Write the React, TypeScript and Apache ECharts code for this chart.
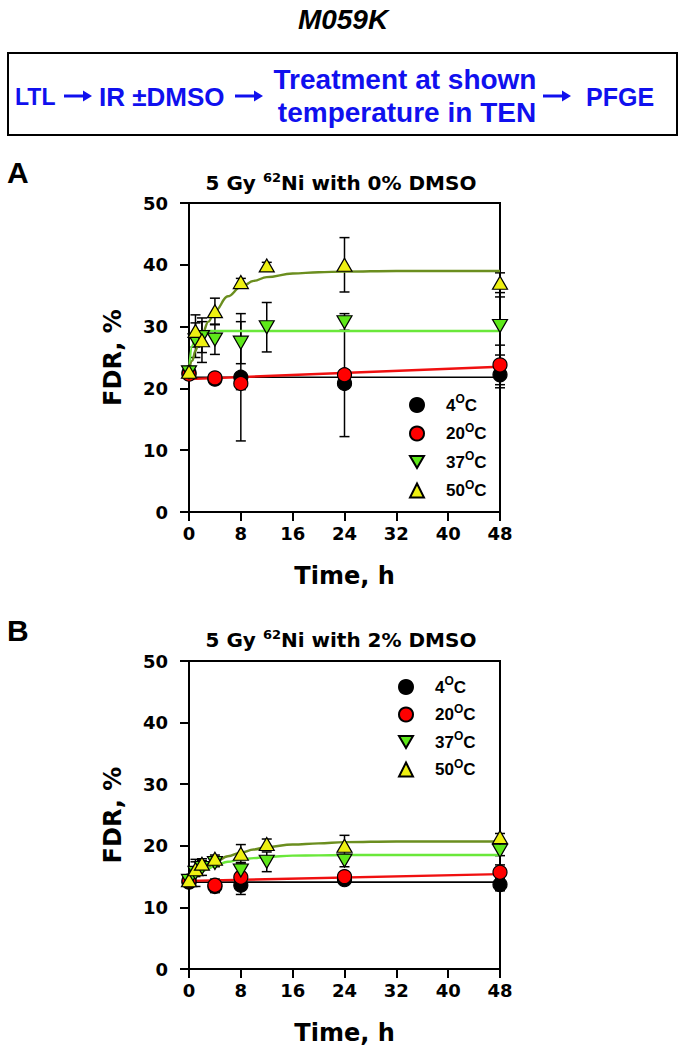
import React, { useEffect, useRef } from "react";
import * as echarts from "echarts";

const FONT = "'Liberation Sans', Arial, sans-serif";
const FONT_AX = "'DejaVu Sans', 'Liberation Sans', sans-serif";
const names = ["4°C", "20°C", "37°C", "50°C"];
const colors = ["#000000", "#ff0000", "#5ee81a", "#eef012"];
const fitColors = ["#000000", "#f01010", "#6ae83a", "#6b8e1f"];

// measured time points (h)
const tShort = [0, 4, 8, 24, 48];
const tLong = [0, 1, 2, 4, 8, 12, 24, 48];

// Panel A: 0% DMSO
const a4 = [22.5, 21.5, 21.8, 20.8, 22.2];
const a4Err = [0.5, 0.8, 10.3, 8.6, 2.1];
const a20 = [22.3, 21.7, 20.8, 22.2, 23.8];
const a20Err = [0.5, 0.6, 1.0, 0.8, 3.2];
const a37 = [22.6, 27.8, 28.3, 27.9, 27.4, 29.9, 30.7, 30.1];
const a37Err = [0.5, 2.8, 2.5, 2.4, 3.4, 4.0, 1.4, 4.7];
const a50 = [22.7, 29.3, 27.8, 32.5, 37.2, 39.9, 40.0, 37.1];
const a50Err = [0.6, 2.6, 3.6, 2.1, 0.6, 0.5, 4.4, 1.6];

// Panel B: 2% DMSO
const b4 = [14.1, 13.4, 13.6, 14.5, 13.7];
const b4Err = [0.4, 1.0, 1.5, 0.6, 1.0];
const b20 = [14.3, 13.6, 14.9, 15.0, 15.7];
const b20Err = [0.4, 1.0, 0.8, 0.5, 1.2];
const b37 = [14.3, 15.6, 16.4, 17.2, 16.0, 17.4, 17.6, 19.2];
const b37Err = [0.4, 2.2, 1.2, 0.6, 1.3, 1.6, 1.0, 0.8];
const b50 = [14.4, 16.2, 17.1, 17.9, 18.7, 20.3, 20.0, 21.4];
const b50Err = [0.4, 1.2, 0.8, 0.6, 1.5, 0.8, 1.7, 0.6];

// fitted curves
const fitT = [0, 0.5, 1, 1.5, 2, 3, 4, 6, 8, 10, 12, 16, 20, 24, 32, 40, 48];
const lineT = [0, 48];
const aFit4 = [21.8, 21.8];
const aFit20 = [21.5, 23.5];
const aFit37 = [22.7, 26.9, 28.4, 29.0, 29.2, 29.3, 29.3, 29.3, 29.3, 29.3, 29.3, 29.3, 29.3, 29.3, 29.3, 29.3, 29.3];
const aFit50 = [22.7, 24.5, 26.1, 27.5, 28.7, 30.8, 32.5, 34.9, 36.4, 37.4, 38.0, 38.6, 38.8, 38.9, 39.0, 39.0, 39.0];
const bFit4 = [14.1, 14.1];
const bFit20 = [14.3, 15.4];
const bFit37 = [14.3, 14.7, 15.1, 15.5, 15.8, 16.3, 16.8, 17.4, 17.8, 18.0, 18.2, 18.4, 18.45, 18.5, 18.5, 18.5, 18.5];
const bFit50 = [14.3, 14.8, 15.3, 15.7, 16.1, 16.7, 17.3, 18.3, 18.9, 19.4, 19.8, 20.2, 20.4, 20.6, 20.7, 20.7, 20.7];

const xTicks = [0, 8, 16, 24, 32, 40, 48];
const yTicks = [0, 10, 20, 30, 40, 50];

const pair = (xs: number[], ys: number[]) => xs.map((x, i) => [x, ys[i]]);
const errs = (xs: number[], ys: number[], es: number[]) =>
  xs.map((x, i) => [x, ys[i] - es[i], ys[i] + es[i]]);

const downTri = "path://M0,0L20,0L10,17Z";
const symbols = ["circle", "circle", downTri, "triangle"];

export default function App() {
  const ref = useRef<HTMLDivElement>(null);
  useEffect(() => {
    if (!ref.current) return;
    const chart = echarts.init(ref.current, null, { renderer: "svg" });

    const panels = [
      { pts: [a4, a20, a37, a50], errs: [a4Err, a20Err, a37Err, a50Err], fits: [aFit4, aFit20, aFit37, aFit50] },
      { pts: [b4, b20, b37, b50], errs: [b4Err, b20Err, b37Err, b50Err], fits: [bFit4, bFit20, bFit37, bFit50] },
    ];

    const series: any[] = [];
    panels.forEach((p, pi) => {
      const eb: number[][] = [];
      p.pts.forEach((ys, si) => {
        const ts = si < 2 ? tShort : tLong;
        eb.push(...errs(ts, ys, p.errs[si]));
      });
      series.push({
        type: "custom",
        name: "err" + pi,
        xAxisIndex: pi,
        yAxisIndex: pi,
        silent: true,
        z: 1,
        clip: false,
        data: eb,
        encode: { x: 0, y: [1, 2] },
        renderItem: (params: any, api: any) => {
          const x = api.value(0);
          const lo = api.coord([x, api.value(1)]);
          const hi = api.coord([x, api.value(2)]);
          const w = 5;
          const st = { stroke: "#000", lineWidth: 1.5 };
          return {
            type: "group",
            children: [
              { type: "line", shape: { x1: lo[0], y1: lo[1], x2: hi[0], y2: hi[1] }, style: st },
              { type: "line", shape: { x1: lo[0] - w, y1: lo[1], x2: lo[0] + w, y2: lo[1] }, style: st },
              { type: "line", shape: { x1: hi[0] - w, y1: hi[1], x2: hi[0] + w, y2: hi[1] }, style: st },
            ],
          };
        },
      });
      p.fits.forEach((fy, si) => {
        const ft = si < 2 ? lineT : fitT;
        series.push({
          type: "line",
          name: "fit" + pi + "_" + si,
          xAxisIndex: pi,
          yAxisIndex: pi,
          data: pair(ft, fy),
          symbol: "none",
          smooth: si >= 2 ? 0.4 : false,
          smoothMonotone: "x",
          silent: true,
          z: 2,
          lineStyle: { color: fitColors[si], width: si === 0 ? 1.6 : 2.4 },
        });
      });
      p.pts.forEach((ys, si) => {
        const ts = si < 2 ? tShort : tLong;
        series.push({
          type: "scatter",
          name: names[si],
          xAxisIndex: pi,
          yAxisIndex: pi,
          data: pair(ts, ys),
          symbol: symbols[si],
          symbolSize: si < 2 ? 14 : [15, 13],
          clip: false,
          z: 3 + si,
          itemStyle: { color: colors[si], borderColor: "#000", borderWidth: 1.2, opacity: 1 },
        });
      });
    });

    const axisText = { fontSize: 18, fontWeight: "bold", color: "#000", fontFamily: FONT_AX };
    const nameText = { fontSize: 24, fontWeight: "bold", color: "#000", fontFamily: FONT_AX };

    const legendRich = {
      n: { fontSize: 17, fontWeight: "bold", color: "#000", fontFamily: FONT, lineHeight: 24 },
      s: { fontSize: 12, fontWeight: "bold", color: "#000", fontFamily: FONT, lineHeight: 12, verticalAlign: "top" },
      g: { width: 17 },
    };
    const legendFmt = (name: string) => `{g| }{n|${name.replace("°C", "")}}{s|O}{n|C}`;

    const titleRich = {
      t: { fontSize: 20, fontWeight: "bold", color: "#000", fontFamily: FONT_AX, lineHeight: 24 },
      s: { fontSize: 13, fontWeight: "bold", color: "#000", fontFamily: FONT_AX, lineHeight: 13, verticalAlign: "top" },
    };
    const blue = "#1010ee";
    const boxText = (text: string, x: number, y: number, size: number, align = "left") => ({
      type: "text",
      x,
      y,
      style: { text, fontSize: size, fontWeight: "bold", fill: blue, fontFamily: FONT, align, verticalAlign: "middle" },
    });
    const arrow = (x1: number, x2: number, y: number) => [
      { type: "line", shape: { x1, y1: y, x2: x2 - 6, y2: y }, style: { stroke: blue, lineWidth: 3 } },
      { type: "polygon", shape: { points: [[x2 - 9, y - 5.5], [x2, y], [x2 - 9, y + 5.5]] }, style: { fill: blue } },
    ];

    const legendBase = {
      data: names,
      orient: "vertical",
      itemWidth: 14,
      itemHeight: 14,
      padding: 0,
      selectedMode: false,
      formatter: legendFmt,
      textStyle: { rich: legendRich },
    };

    const option: any = {
      animation: false,
      backgroundColor: "#fff",
      grid: [
        { left: 189, top: 203, width: 311, height: 309, show: true, borderColor: "#000", borderWidth: 2, backgroundColor: "transparent" },
        { left: 189, top: 661, width: 311, height: 308, show: true, borderColor: "#000", borderWidth: 2, backgroundColor: "transparent" },
      ],
      xAxis: [0, 1].map((i) => ({
        type: "value",
        gridIndex: i,
        min: xTicks[0],
        max: xTicks[xTicks.length - 1],
        interval: 8,
        axisLine: { show: true, onZero: false, lineStyle: { color: "#000", width: 2 } },
        axisTick: { show: true, length: 9, lineStyle: { color: "#000", width: 2 } },
        axisLabel: { ...axisText, margin: 12 },
        splitLine: { show: false },
        name: "Time, h",
        nameLocation: "middle",
        nameGap: 52,
        nameTextStyle: nameText,
      })),
      yAxis: [0, 1].map((i) => ({
        type: "value",
        gridIndex: i,
        min: yTicks[0],
        max: yTicks[yTicks.length - 1],
        interval: 10,
        axisLine: { show: true, onZero: false, lineStyle: { color: "#000", width: 2 } },
        axisTick: { show: true, length: 9, lineStyle: { color: "#000", width: 2 } },
        axisLabel: { ...axisText, margin: 21 },
        splitLine: { show: false },
        name: "FDR, %",
        nameLocation: "middle",
        nameGap: 64,
        nameTextStyle: nameText,
      })),
      legend: [
        { ...legendBase, left: 409, top: 393, itemGap: 8 },
        { ...legendBase, left: 398, top: 675, itemGap: 7 },
      ],
      graphic: [
        { type: "text", x: 343, y: 19, style: { text: "M059K", fontSize: 28, fontWeight: "bold", fontStyle: "italic", fill: "#000", fontFamily: FONT, align: "center", verticalAlign: "middle" } },
        { type: "rect", shape: { x: 8, y: 53, width: 669, height: 82 }, style: { fill: "none", stroke: "#000", lineWidth: 2 } },
        boxText("LTL", 15, 97, 23),
        ...arrow(64, 92, 96),
        boxText("IR ±DMSO", 99, 97, 26),
        ...arrow(235, 263, 96),
        boxText("Treatment at shown", 405, 79, 28, "center"),
        boxText("temperature in TEN", 407, 112, 28, "center"),
        ...arrow(543, 571, 96),
        boxText("PFGE", 586, 97, 25),
        { type: "text", x: 7, y: 172, style: { text: "A", fontSize: 30, fontWeight: "bold", fill: "#000", fontFamily: FONT, verticalAlign: "middle" } },
        { type: "text", x: 7, y: 630, style: { text: "B", fontSize: 30, fontWeight: "bold", fill: "#000", fontFamily: FONT, verticalAlign: "middle" } },
        { type: "text", x: 341, y: 183, style: { text: "{t|5 Gy }{s|62}{t|Ni with 0% DMSO}", rich: titleRich, align: "center", verticalAlign: "middle" } },
        { type: "text", x: 341, y: 640, style: { text: "{t|5 Gy }{s|62}{t|Ni with 2% DMSO}", rich: titleRich, align: "center", verticalAlign: "middle" } },
      ],
      series,
    };
    chart.setOption(option);
    return () => chart.dispose();
  }, []);
  return <div ref={ref} style={{ position: "absolute", left: 0, top: 0, width: 685, height: 1062 }} />;
}
